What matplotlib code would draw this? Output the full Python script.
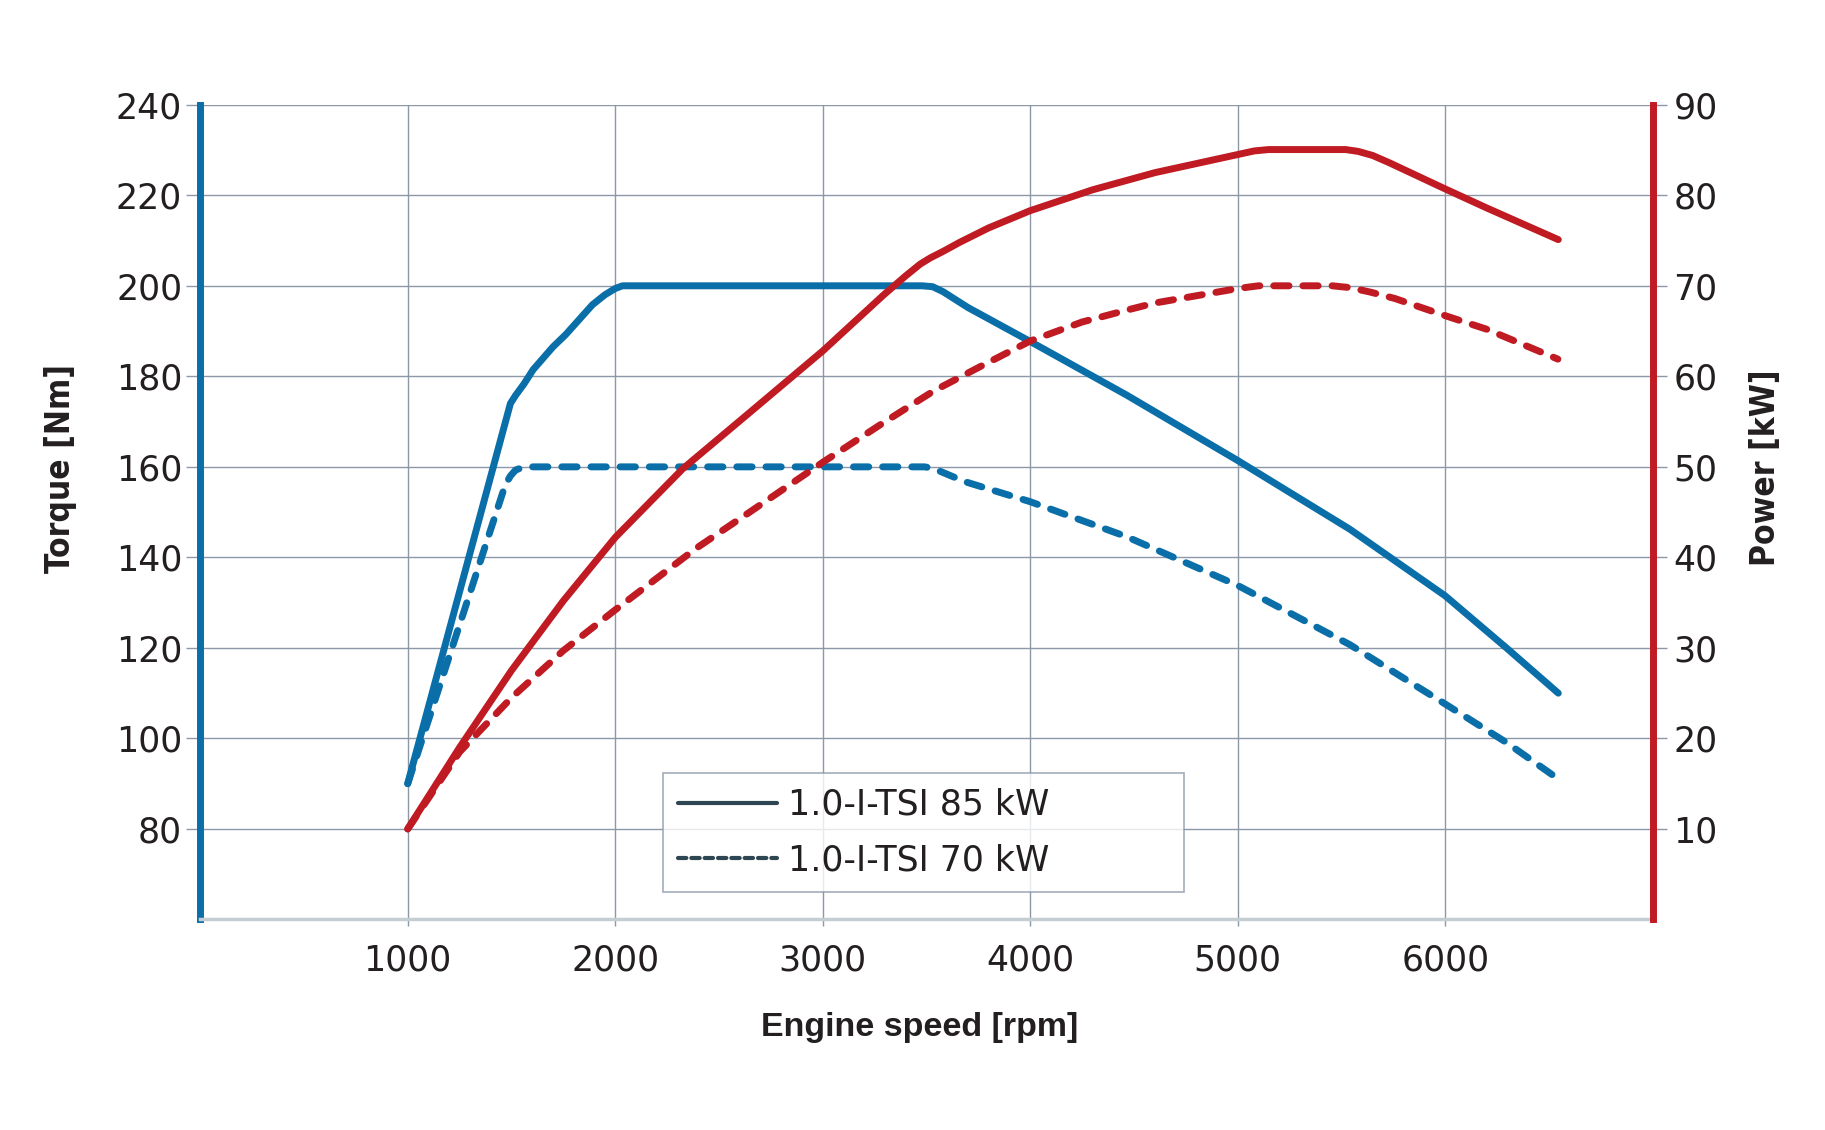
import matplotlib
matplotlib.use("Agg")
import matplotlib.pyplot as plt
from matplotlib.lines import Line2D

plt.rcParams["font.family"] = ["DejaVu Sans"]

# ---------------- data ----------------
rpm_t85 = [1000, 1495, 1520, 1560, 1605, 1700, 1761, 1890, 1950, 2000, 2035,
           3480, 3530, 3580, 3700, 4000, 4463, 5000, 5541, 6000, 6295, 6545]
torque_85 = [90, 174, 175.8, 178.3, 181.5, 186.5, 189.2, 195.8, 198, 199.4, 200,
             200, 199.8, 198.7, 195.2, 187.7, 175.9, 161.4, 146.2, 131.5, 120, 110]

rpm_t70 = [1000, 1470, 1495, 1520, 1550, 1600, 3490, 3530, 3687, 4000, 4463,
           5000, 5541, 6000, 6295, 6515]
torque_70 = [90, 156, 158, 159.3, 159.8, 160, 160, 159.7, 156.7, 152.3, 144.6,
             133.8, 120.7, 107.6, 99.1, 92]

rpm_p85 = [1000, 1250, 1500, 1750, 2000, 2326, 2648, 3000, 3294, 3400, 3470, 3520,
           3580, 3660, 3800, 4000, 4300, 4601, 5000, 5080, 5149, 5520, 5580, 5650,
           5730, 6000, 6200, 6545]
power_85 = [10, 19, 27.5, 35.2, 42.2, 49.8, 56.0, 62.8, 69.0, 71.1, 72.4, 73.1,
            73.8, 74.8, 76.4, 78.3, 80.6, 82.5, 84.5, 84.9, 85.05, 85.05, 84.85, 84.4,
            83.6, 80.7, 78.6, 75.1]

rpm_p70 = [1000, 1250, 1500, 1750, 2000, 2390, 2648, 3000, 3294, 3536, 3778, 4000,
           4250, 4463, 4601, 5000, 5100, 5455, 5541, 5640, 5757, 6000, 6200, 6543]
power_70 = [10, 18.5, 24.5, 29.7, 34.2, 41.0, 45.0, 50.5, 54.9, 58.4, 61.3, 63.9,
            66.0, 67.3, 68.1, 69.7, 70, 70, 69.8, 69.3, 68.6, 66.7, 65.2, 61.9]

x_ticks = [1000, 2000, 3000, 4000, 5000, 6000]
torque_ticks = [80, 100, 120, 140, 160, 180, 200, 220, 240]
power_ticks = [10, 20, 30, 40, 50, 60, 70, 80, 90]
legend_labels = ["1.0-I-TSI 85 kW", "1.0-I-TSI 70 kW"]

# ---------------- style ----------------
BLUE = "#0a6ea8"
RED = "#c01a22"
GRID = "#8a98a8"
TEXT = "#231f20"
LEG = "#2e4652"

fig = plt.figure(figsize=(18.25, 11.30), dpi=100)
ax = fig.add_axes([0.1097, 0.1863, 0.7959, 0.7210])
ax2 = ax.twinx()

lw = 5
dash = (2.2, 2.0)

ax.plot(rpm_t70, torque_70, color=BLUE, lw=lw, dashes=dash, dash_capstyle="round",
        dash_joinstyle="round", zorder=3)
ax.plot(rpm_t85, torque_85, color=BLUE, lw=lw, solid_capstyle="round",
        solid_joinstyle="round", zorder=4)
ax2.plot(rpm_p70, power_70, color=RED, lw=lw, dashes=dash, dash_capstyle="round",
         dash_joinstyle="round", zorder=3)
ax2.plot(rpm_p85, power_85, color=RED, lw=lw, solid_capstyle="round",
         solid_joinstyle="round", zorder=4)

ax.set_xlim(0, 7000)
ax.set_ylim(60, 240)
ax2.set_ylim(0, 90)

ax.set_xticks(x_ticks)
ax.set_yticks(torque_ticks)
ax2.set_yticks(power_ticks)

ax.grid(True, color=GRID, lw=1.0, zorder=0)
ax.set_axisbelow(True)

ax.tick_params(axis="y", direction="out", length=10, width=1, color=GRID,
               pad=3, labelsize=25, labelcolor=TEXT)
ax.tick_params(axis="x", direction="out", length=5, width=1, color=GRID,
               pad=12, labelsize=25, labelcolor=TEXT)
ax2.tick_params(axis="y", direction="out", length=10, width=1, color=GRID,
                pad=5, labelsize=25, labelcolor=TEXT)

for a in (ax, ax2):
    for s in a.spines.values():
        s.set_visible(False)
ax.spines["left"].set_visible(True)
ax.spines["left"].set_color(BLUE)
ax.spines["left"].set_linewidth(5)
ax.spines["bottom"].set_visible(True)
ax.spines["bottom"].set_color("#c4ced2")
ax.spines["bottom"].set_linewidth(2.5)
ax2.spines["right"].set_visible(True)
ax2.spines["right"].set_color(RED)
ax2.spines["right"].set_linewidth(5)

ax.set_ylabel("Torque [Nm]", family="DejaVu Sans", fontstretch="condensed",
              fontweight="bold", fontsize=24, color=TEXT)
ax.yaxis.set_label_coords(-0.085, 0.554)
ax2.set_ylabel("Power [kW]", family="DejaVu Sans", fontstretch="condensed",
               fontweight="bold", fontsize=24, color=TEXT, rotation=90)
ax2.yaxis.set_label_coords(1.066, 0.554)
ax.set_xlabel("Engine speed [rpm]", family=["Liberation Sans", "DejaVu Sans"],
              fontweight="bold", fontsize=24.5, color=TEXT)
ax.xaxis.set_label_coords(0.495, -0.114)

handles = [Line2D([], [], color=LEG, lw=3, solid_capstyle="round"),
           Line2D([], [], color=LEG, lw=3, dashes=(2.0, 1.2), dash_capstyle="round")]
leg = ax2.legend(handles, legend_labels, loc="lower left",
                 bbox_to_anchor=(0.3186, 0.0338, 0.3584, 0.15), mode="expand",
                 fontsize=25, frameon=True, fancybox=False, handlelength=2.85,
                 handletextpad=0.33, labelspacing=0.62, borderpad=0.42,
                 borderaxespad=0)
leg.get_frame().set_edgecolor(GRID)
leg.get_frame().set_linewidth(1.2)
for t in leg.get_texts():
    t.set_color(TEXT)

fig.savefig("out.png", dpi=100, facecolor="white")
